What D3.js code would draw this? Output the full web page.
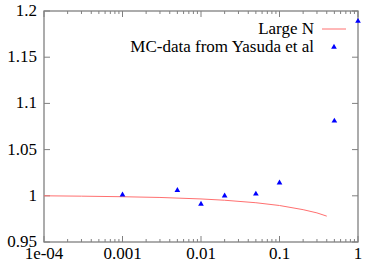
<!DOCTYPE html>
<html>
<head>
<meta charset="utf-8">
<script src="https://cdn.jsdelivr.net/npm/d3@7"></script>
<style>
body { margin: 0; background: #fff; }
text { font-family: "Liberation Serif", "Times New Roman", serif; font-size: 17px; fill: #000; }
</style>
</head>
<body>
<svg width="374" height="262"></svg>
<script>
// large N curve
var lineX = [1e-4, 3e-4, 1e-3, 3e-3, 0.01, 0.02, 0.05, 0.1, 0.2, 0.3, 0.4];
var lineY = [1.0, 0.9996, 0.999, 0.9982, 0.9966, 0.9952, 0.9925, 0.9895, 0.985, 0.9815, 0.978];
// MC data
var mcX = [0.001, 0.005, 0.01, 0.02, 0.05, 0.1, 0.5, 1];
var mcY = [1.001, 1.006, 0.991, 1.000, 1.002, 1.014, 1.081, 1.189];
var xTicks = [1e-4, 1e-3, 1e-2, 1e-1, 1];
var xTickLabels = ["1e-04", "0.001", "0.01", "0.1", "1"];
var yTicks = [0.95, 1, 1.05, 1.1, 1.15, 1.2];
var yTickLabels = ["0.95", "1", "1.05", "1.1", "1.15", "1.2"];

var svg = d3.select("svg");
var L = 44, R = 358, T = 11, B = 242;
var x = d3.scaleLog().domain([1e-4, 1]).range([L, R]);
var y = d3.scaleLinear().domain([0.95, 1.2]).range([B, T]);
var axisColor = "#808080";

// minor ticks
var minor = [];
for (var e = -4; e < 0; e++) {
	for (var k = 2; k <= 9; k++) minor.push(k * Math.pow(10, e));
}

var g = svg.append("g");
g.selectAll("line.minor").data(minor).enter().append("line")
	.attr("x1", function(d) { return x(d); }).attr("x2", function(d) { return x(d); })
	.attr("y1", B).attr("y2", B - 3)
	.attr("stroke", axisColor);
g.selectAll("line.minorTop").data(minor).enter().append("line")
	.attr("x1", function(d) { return x(d); }).attr("x2", function(d) { return x(d); })
	.attr("y1", T).attr("y2", T + 3)
	.attr("stroke", axisColor);
g.selectAll("line.xmaj").data(xTicks).enter().append("line")
	.attr("x1", function(d) { return x(d); }).attr("x2", function(d) { return x(d); })
	.attr("y1", B).attr("y2", B - 6)
	.attr("stroke", axisColor);
g.selectAll("line.xmajTop").data(xTicks).enter().append("line")
	.attr("x1", function(d) { return x(d); }).attr("x2", function(d) { return x(d); })
	.attr("y1", T).attr("y2", T + 6)
	.attr("stroke", axisColor);
g.selectAll("line.ymaj").data(yTicks).enter().append("line")
	.attr("x1", L).attr("x2", L + 6)
	.attr("y1", function(d) { return y(d); }).attr("y2", function(d) { return y(d); })
	.attr("stroke", axisColor);
g.selectAll("line.ymajR").data(yTicks).enter().append("line")
	.attr("x1", R).attr("x2", R - 6)
	.attr("y1", function(d) { return y(d); }).attr("y2", function(d) { return y(d); })
	.attr("stroke", axisColor);

g.append("rect").attr("x", L).attr("y", T).attr("width", R - L).attr("height", B - T)
	.attr("fill", "none").attr("stroke", axisColor).attr("stroke-width", 1.3);

g.selectAll("text.xl").data(xTicks).enter().append("text")
	.attr("x", function(d) { return x(d); }).attr("y", 259)
	.attr("text-anchor", "middle")
	.text(function(d, i) { return xTickLabels[i]; });
g.selectAll("text.yl").data(yTicks).enter().append("text")
	.attr("x", 37).attr("y", function(d) { return y(d) + 5; })
	.attr("text-anchor", "end")
	.text(function(d, i) { return yTickLabels[i]; });

var line = d3.line()
	.x(function(d, i) { return x(lineX[i]); })
	.y(function(d) { return y(d); });
svg.append("path").datum(lineY).attr("d", line)
	.attr("fill", "none").attr("stroke", "#ff7070").attr("stroke-width", 1);

var tri = d3.symbol().type(d3.symbolTriangle).size(14);
svg.selectAll("path.mc").data(mcY).enter().append("path")
	.attr("d", tri)
	.attr("transform", function(d, i) { return "translate(" + x(mcX[i]) + "," + y(d) + ")"; })
	.attr("fill", "#0000ff");

// legend
svg.append("text").attr("x", 314).attr("y", 34).attr("text-anchor", "end").text("Large N");
svg.append("line").attr("x1", 322).attr("x2", 346).attr("y1", 29).attr("y2", 29)
	.attr("stroke", "#ff7070");
svg.append("text").attr("x", 314).attr("y", 52).attr("text-anchor", "end").text("MC-data from Yasuda et al");
svg.append("path").attr("d", tri).attr("transform", "translate(334,47)").attr("fill", "#0000ff");
</script>
</body>
</html>
